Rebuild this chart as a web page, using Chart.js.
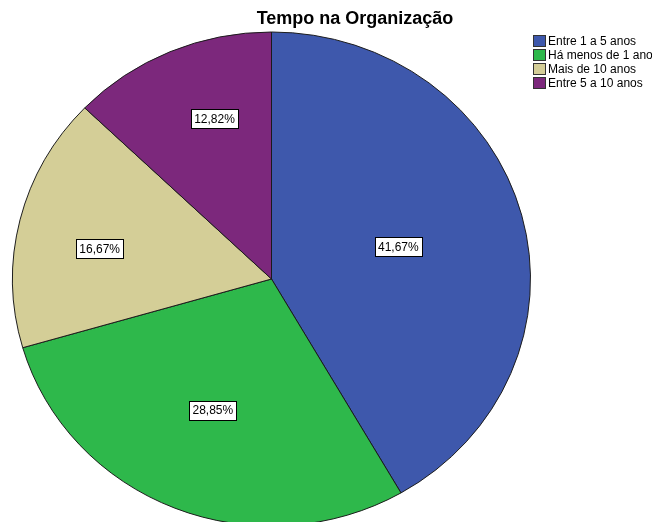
<!DOCTYPE html>
<html>
<head>
<meta charset="utf-8">
<script src="https://cdn.jsdelivr.net/npm/chart.js@4"></script>
<style>
  html, body { margin: 0; padding: 0; background: #fff; overflow: hidden; }
  canvas { display: block; }
</style>
</head>
<body>
<canvas id="myChart" width="652" height="560"></canvas>
<script>
const chartTitle = 'Tempo na Organização';
const categories = ['Entre 1 a 5 anos', 'Há menos de 1 ano', 'Mais de 10 anos', 'Entre 5 a 10 anos'];
const percents = [41.67, 28.85, 16.67, 12.82];
const colors = ['#3E58AC', '#2EB84B', '#D4CE97', '#7C287C'];
// where each value label sits: fraction of radius, and turn from mid-angle (deg)
const labelRadius = [0.507, 0.577, 0.675, 0.687];
const labelTurn = [0, 1.2, -3.2, 4.4];
const squash = 247 / 259; // the pie is a little wider than tall

const ellipsePlugin = {
  id: 'ellipse',
  beforeDatasetsDraw(chart) {
    const arc = chart.getDatasetMeta(0).data[0];
    const ctx = chart.ctx;
    ctx.save();
    ctx.translate(arc.x, arc.y);
    ctx.scale(1, squash);
    ctx.translate(-arc.x, -arc.y);
  },
  afterDatasetsDraw(chart) {
    const ctx = chart.ctx;
    ctx.restore();

    // value labels
    const meta = chart.getDatasetMeta(0);
    ctx.save();
    ctx.font = '12px "Liberation Sans", Arial, sans-serif';
    ctx.textAlign = 'center';
    ctx.textBaseline = 'middle';
    meta.data.forEach(function(arc, i) {
      const mid = (arc.startAngle + arc.endAngle) / 2 + labelTurn[i] * Math.PI / 180;
      const r = arc.outerRadius * labelRadius[i];
      const x = arc.x + Math.cos(mid) * r;
      const y = arc.y + Math.sin(mid) * r * squash;
      const txt = percents[i].toFixed(2).replace('.', ',') + '%';
      const w = Math.round(ctx.measureText(txt).width) + 6;
      const h = 19;
      const bx = Math.round(x - w / 2) + 0.5;
      const by = Math.round(y - h / 2) + 0.5;
      ctx.fillStyle = '#fff';
      ctx.fillRect(bx, by, w, h);
      ctx.strokeStyle = '#000';
      ctx.lineWidth = 1;
      ctx.strokeRect(bx, by, w, h);
      ctx.fillStyle = '#000';
      ctx.fillText(txt, x, y + 1);
    });

    // title
    ctx.font = 'bold 18px "Liberation Sans", Arial, sans-serif';
    ctx.fillStyle = '#000';
    ctx.fillText(chartTitle, 355, 19);

    // legend
    ctx.font = '12px "Liberation Sans", Arial, sans-serif';
    ctx.textAlign = 'left';
    categories.forEach(function(c, i) {
      const y = 41 + i * 14;
      ctx.fillStyle = colors[i];
      ctx.fillRect(533.5, y - 5.5, 12, 11);
      ctx.strokeStyle = '#333';
      ctx.strokeRect(533.5, y - 5.5, 12, 11);
      ctx.fillStyle = '#000';
      ctx.fillText(c, 548, y + 1);
    });
    ctx.restore();
  }
};

const ctx = document.getElementById('myChart');

new Chart(ctx, {
  type: 'pie',
  data: {
    labels: categories,
    datasets: [{
      data: percents,
      backgroundColor: colors,
      borderColor: '#1a1a1a',
      borderWidth: 1
    }]
  },
  options: {
    responsive: false,
    animation: false,
    devicePixelRatio: 1,
    layout: {
      padding: { left: 12, right: 121, top: 19.5, bottom: 21.5 }
    },
    plugins: {
      legend: { display: false },
      title: { display: false },
      tooltip: { enabled: false }
    }
  },
  plugins: [ellipsePlugin]
});
</script>
</body>
</html>
